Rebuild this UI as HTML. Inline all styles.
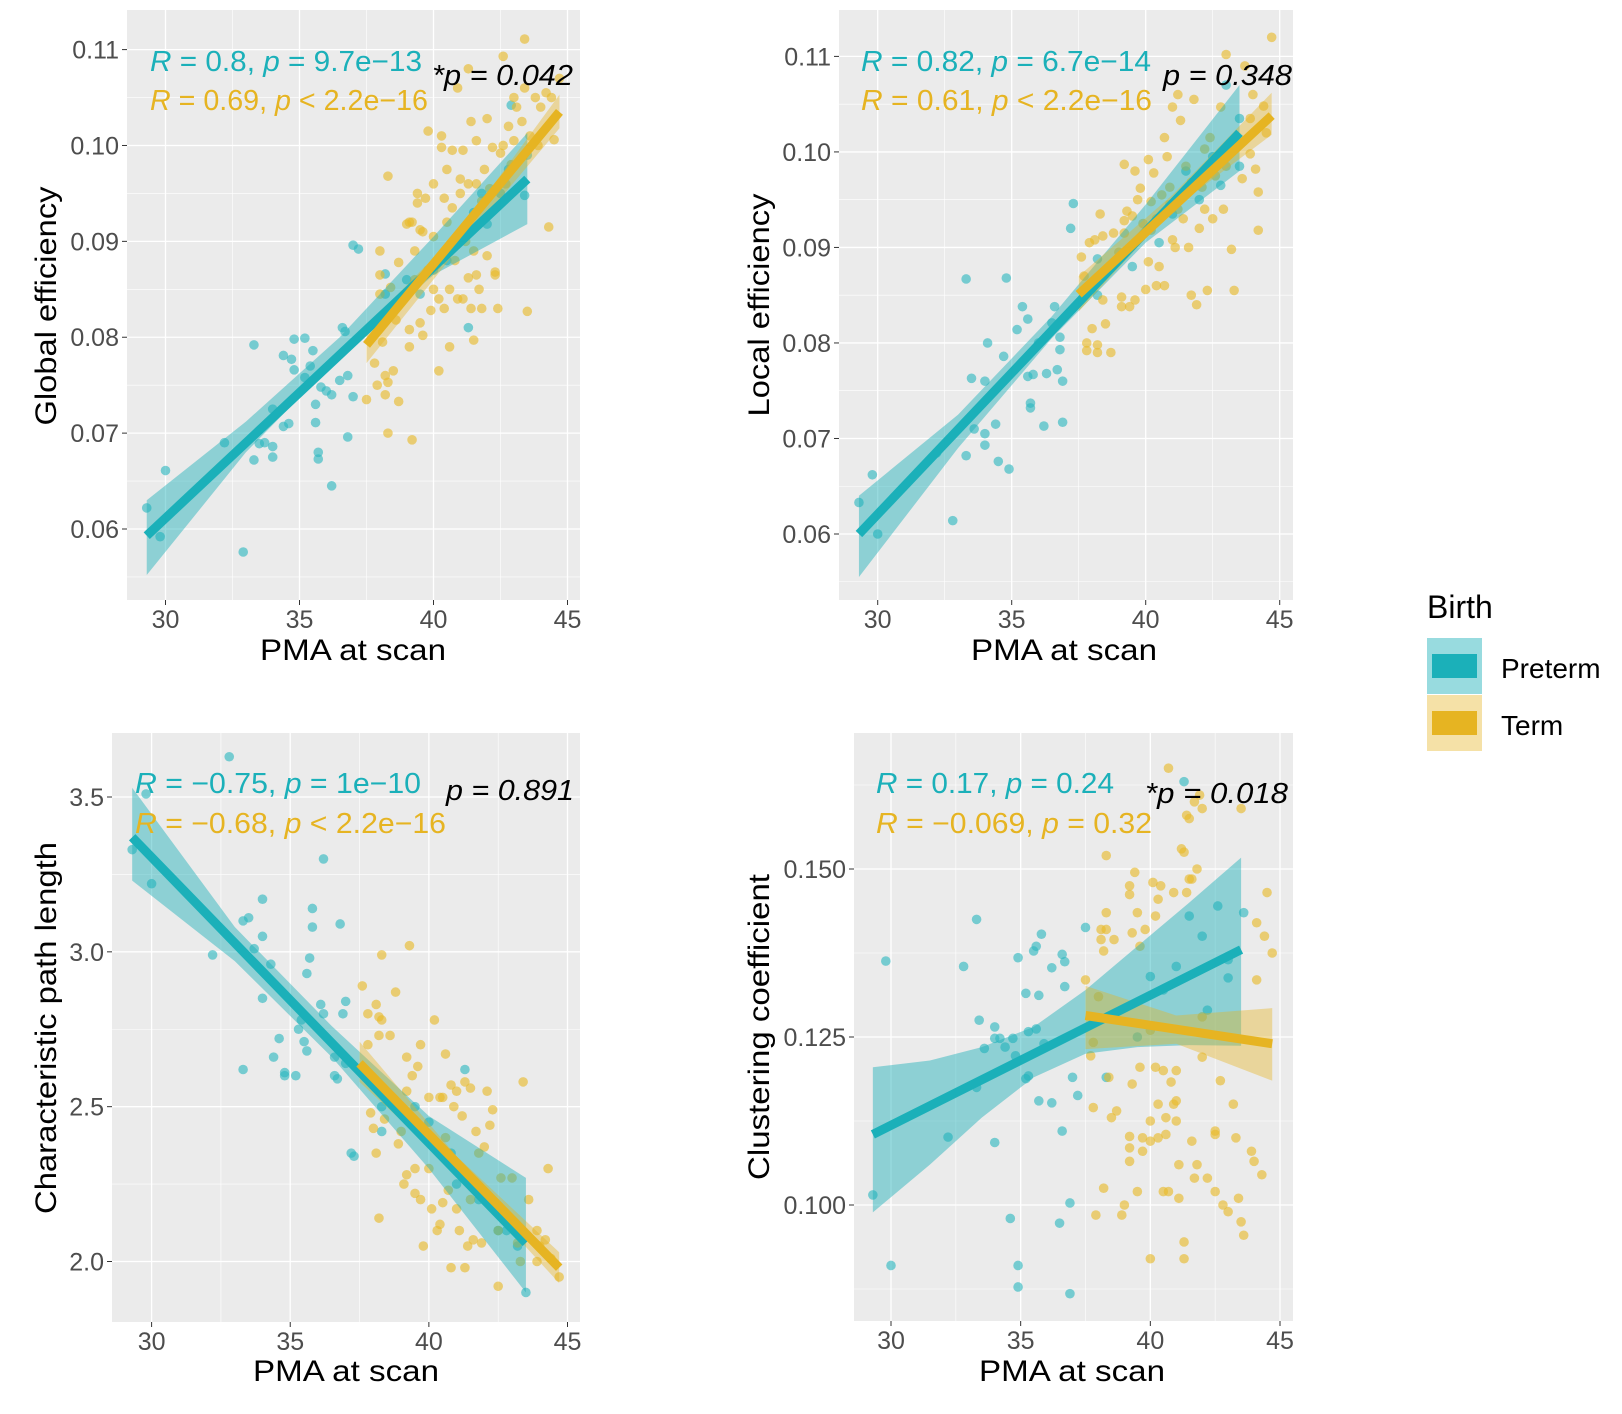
<!DOCTYPE html>
<html><head><meta charset="utf-8">
<style>
html,body{margin:0;padding:0;background:#fff;}
svg{display:block;font-family:"Liberation Sans",sans-serif;}
</style></head>
<body>
<svg id="chart" width="1622" height="1414" viewBox="0 0 1622 1414" xmlns="http://www.w3.org/2000/svg">
<g id="root"></g>
</svg>
<script>
// ---------- data ----------
const xTicks = [30, 35, 40, 45];
const xTickLabels = ["30", "35", "40", "45"];
const p1YTicks = [0.06, 0.07, 0.08, 0.09, 0.10, 0.11];
const p1YLabels = ["0.06", "0.07", "0.08", "0.09", "0.10", "0.11"];
const p2YTicks = [0.06, 0.07, 0.08, 0.09, 0.10, 0.11];
const p2YLabels = ["0.06", "0.07", "0.08", "0.09", "0.10", "0.11"];
const p3YTicks = [2.0, 2.5, 3.0, 3.5];
const p3YLabels = ["2.0", "2.5", "3.0", "3.5"];
const p4YTicks = [0.100, 0.125, 0.150];
const p4YLabels = ["0.100", "0.125", "0.150"];

// fitted lines [x0,y0,x1,y1]
const p1PretermFit = [29.3, 0.0593, 43.5, 0.0965];
const p1TermFit = [37.5, 0.0792, 44.7, 0.1035];
const p2PretermFit = [29.3, 0.0600, 43.5, 0.1020];
const p2TermFit = [37.5, 0.0851, 44.7, 0.1038];
const p3PretermFit = [29.3, 3.37, 43.5, 2.06];
const p3TermFit = [37.5, 2.64, 44.7, 1.98];
const p4PretermFit = [29.3, 0.1105, 43.5, 0.1380];
const p4TermFit = [37.5, 0.1282, 44.7, 0.1240];

// confidence bands: x, lower, upper
const p1PretermBandX = [29.3, 33, 36.5, 40, 43.5];
const p1PretermBandLo = [0.0552, 0.0680, 0.0780, 0.0865, 0.0918];
const p1PretermBandHi = [0.0630, 0.0712, 0.0800, 0.0905, 0.1013];
const p1TermBandX = [37.5, 41, 44.7];
const p1TermBandLo = [0.0773, 0.0895, 0.1018];
const p1TermBandHi = [0.0811, 0.0912, 0.1053];
const p2PretermBandX = [29.3, 33, 36.5, 40, 43.5];
const p2PretermBandLo = [0.0555, 0.0690, 0.0805, 0.0905, 0.0980];
const p2PretermBandHi = [0.0640, 0.0725, 0.0828, 0.0945, 0.1070];
const p2TermBandX = [37.5, 41, 44.7];
const p2TermBandLo = [0.0833, 0.0940, 0.1018];
const p2TermBandHi = [0.0870, 0.0955, 0.1062];
const p3PretermBandX = [29.3, 33, 36.5, 40, 43.5];
const p3PretermBandLo = [3.23, 2.97, 2.66, 2.30, 1.90];
const p3PretermBandHi = [3.53, 3.08, 2.76, 2.47, 2.27];
const p3TermBandX = [37.5, 41, 44.7];
const p3TermBandLo = [2.58, 2.29, 1.93];
const p3TermBandHi = [2.71, 2.34, 2.03];
const p4PretermBandX = [29.3, 31.5, 33.5, 35.5, 37.5, 39.5, 41.5, 43.5];
const p4PretermBandLo = [0.0989, 0.1060, 0.1130, 0.1190, 0.1225, 0.1235, 0.1238, 0.1237];
const p4PretermBandHi = [0.1205, 0.1215, 0.1235, 0.1265, 0.1320, 0.1385, 0.1450, 0.1517];
const p4TermBandX = [37.5, 41, 44.7];
const p4TermBandLo = [0.1232, 0.1240, 0.1185];
const p4TermBandHi = [0.1326, 0.1282, 0.1293];

// scatter points, flat [x,y,x,y,...]
const p1Preterm = [29.3,0.0622,29.8,0.0592,30,0.0661,32.2,0.0690,32.9,0.0576,33.3,0.0792,33.3,0.0672,33.5,0.0689,33.7,0.0690,34.0,0.0725,34.0,0.0686,34.0,0.0675,34.4,0.0781,34.4,0.0707,34.6,0.0710,34.7,0.0777,34.8,0.0798,34.8,0.0766,35.2,0.0799,35.2,0.0758,35.4,0.0770,35.5,0.0786,35.6,0.0730,35.6,0.0711,35.7,0.0680,35.7,0.0673,35.8,0.0748,36.0,0.0744,36.2,0.0740,36.2,0.0645,36.5,0.0755,36.6,0.0810,36.7,0.0806,36.8,0.0760,36.8,0.0696,37.0,0.0738,37.0,0.0896,37.2,0.0892,38.2,0.0866,38.2,0.0845,41.3,0.0810,42.9,0.1042,43.5,0.0990,43.4,0.0948,42.0,0.0918,41.5,0.0930,40.5,0.0880,41.0,0.0900,42.5,0.0950,40.0,0.0870,39.0,0.0860,38.5,0.0830,39.5,0.0845,42.8,0.0975,41.8,0.0950];
const p1Term = [37.5,0.0735,37.8,0.0773,37.9,0.0750,38.0,0.0845,38.0,0.0865,38.0,0.0890,38.1,0.0795,38.2,0.0760,38.2,0.0740,38.3,0.0753,38.3,0.0700,38.3,0.0968,38.4,0.0852,38.5,0.0765,38.6,0.0818,38.7,0.0878,38.7,0.0733,39.0,0.0918,39.1,0.0920,39.1,0.0808,39.1,0.0790,39.2,0.0693,39.3,0.0890,39.3,0.0860,39.4,0.0950,39.4,0.0940,39.5,0.0912,39.5,0.0815,39.6,0.0910,39.6,0.0802,39.7,0.0945,39.8,0.0870,39.8,0.1015,39.9,0.0828,40.0,0.0960,40.0,0.0850,40.1,0.0875,40.2,0.0765,40.2,0.0840,40.3,0.1010,40.3,0.0998,40.4,0.0945,40.4,0.0830,40.5,0.0975,40.5,0.0920,40.6,0.0850,40.6,0.0790,40.7,0.0935,40.7,0.0995,40.8,0.0880,40.9,0.1060,40.9,0.0840,41.0,0.0950,41.0,0.0965,41.1,0.0840,41.1,0.0995,41.2,0.0900,41.3,0.0862,41.3,0.0960,41.3,0.1080,41.4,0.1025,41.4,0.0830,41.5,0.0890,41.5,0.0797,41.6,0.0960,41.6,0.1005,41.6,0.0865,41.7,0.0850,41.8,0.0942,41.8,0.0830,41.9,0.0975,42.0,0.1028,42.0,0.0885,42.1,0.0955,42.2,0.0998,42.3,0.0868,42.4,0.0830,42.3,0.0865,42.5,0.0992,42.6,0.1093,42.6,0.1000,42.8,0.1020,42.9,0.0980,43.0,0.1050,43.0,0.1005,43.1,0.1040,43.3,0.1025,43.4,0.1111,43.4,0.1060,43.5,0.0827,43.6,0.1010,43.8,0.1050,43.9,0.1000,44.0,0.1040,44.2,0.1055,44.3,0.0915,44.4,0.1050,44.5,0.1006,44.7,0.1070,39.2,0.0920,40.0,0.0905,42.7,0.0960];
const p2Preterm = [29.3,0.0633,29.8,0.0662,30.0,0.0600,32.2,0.0685,32.8,0.0614,33.3,0.0867,33.3,0.0682,33.5,0.0763,33.6,0.0710,34.0,0.0760,34.0,0.0693,34.0,0.0705,34.1,0.0800,34.4,0.0715,34.5,0.0676,34.7,0.0786,34.8,0.0868,34.9,0.0668,35.2,0.0814,35.4,0.0838,35.6,0.0825,35.6,0.0765,35.7,0.0737,35.7,0.0732,35.8,0.0767,36.0,0.0800,36.2,0.0713,36.3,0.0768,36.5,0.0821,36.6,0.0838,36.7,0.0772,36.8,0.0806,36.8,0.0793,36.9,0.0760,36.9,0.0717,37.2,0.0920,37.3,0.0946,38.2,0.0888,38.2,0.0850,43.0,0.1070,43.5,0.1035,43.5,0.0985,42.8,0.0965,42.0,0.0950,41.5,0.0980,40.5,0.0905,41.0,0.0935,42.5,0.0995,39.5,0.0880,43.2,0.1000];
const p2Term = [37.6,0.0890,37.7,0.0870,37.8,0.0792,37.8,0.0800,37.9,0.0905,38.0,0.0815,38.1,0.0908,38.2,0.0790,38.2,0.0798,38.3,0.0868,38.3,0.0935,38.4,0.0912,38.4,0.0845,38.5,0.0820,38.7,0.0790,38.8,0.0915,39.1,0.0848,39.1,0.0838,39.2,0.0928,39.2,0.0915,39.2,0.0987,39.3,0.0938,39.4,0.0838,39.5,0.0933,39.6,0.0845,39.6,0.0980,39.7,0.0950,39.8,0.0962,39.9,0.0925,40.0,0.0856,40.1,0.0992,40.1,0.0885,40.2,0.0918,40.2,0.0948,40.3,0.0978,40.4,0.0930,40.4,0.0860,40.5,0.0880,40.6,0.0955,40.7,0.0860,40.7,0.1015,40.8,0.0995,40.9,0.0963,41.0,0.1047,41.0,0.0908,41.1,0.0900,41.2,0.0940,41.2,0.1060,41.3,0.1033,41.4,0.0930,41.5,0.0985,41.6,0.0900,41.7,0.0850,41.7,0.0968,41.8,0.1055,41.9,0.0840,42.0,0.0920,42.1,0.0963,42.2,0.1003,42.2,0.0940,42.3,0.0855,42.5,0.0930,42.6,0.0975,42.8,0.1047,42.9,0.0940,43.0,0.1102,43.0,0.0985,43.2,0.0898,43.3,0.0855,43.5,0.1008,43.6,0.0972,43.9,0.1035,43.9,0.0998,44.0,0.1060,44.1,0.0982,44.2,0.0958,44.2,0.0918,44.4,0.1048,44.5,0.1020,44.7,0.1120,39.0,0.0895,40.9,0.0945,42.4,0.1015,43.7,0.1090];
const p3Preterm = [29.3,3.33,29.8,3.51,30.0,3.22,32.2,2.99,32.8,3.63,33.3,3.10,33.3,2.62,33.5,3.11,33.7,3.01,34.0,3.17,34.0,3.05,34.0,2.85,34.3,2.96,34.4,2.66,34.6,2.72,34.8,2.60,34.8,2.61,35.2,2.60,35.3,2.75,35.4,2.78,35.5,2.71,35.6,2.68,35.6,2.93,35.7,2.98,35.8,3.14,35.8,3.08,36.1,2.83,36.2,3.30,36.2,2.80,36.6,2.66,36.6,2.60,36.7,2.59,36.8,3.09,36.9,2.80,37.0,2.84,37.0,2.64,37.2,2.35,37.3,2.34,38.3,2.50,38.3,2.42,41.3,2.62,43.5,1.90,43.2,2.05,42.5,2.10,41.8,2.20,40.8,2.35,41.0,2.25,42.8,2.10,40.0,2.45,39.5,2.50];
const p3Term = [37.6,2.89,37.8,2.70,37.8,2.80,37.9,2.48,38.0,2.43,38.1,2.83,38.1,2.35,38.2,2.79,38.2,2.73,38.2,2.14,38.3,2.78,38.3,2.99,38.4,2.46,38.6,2.73,38.8,2.87,38.9,2.38,39.1,2.25,39.2,2.66,39.2,2.28,39.2,2.55,39.3,3.02,39.4,2.60,39.5,2.30,39.5,2.22,39.6,2.63,39.7,2.20,39.7,2.70,39.8,2.05,40.0,2.53,40.1,2.17,40.2,2.78,40.3,2.10,40.4,2.53,40.4,2.12,40.5,2.19,40.5,2.53,40.6,2.40,40.6,2.67,40.7,2.23,40.8,2.57,40.8,1.98,40.9,2.50,41.0,2.17,41.0,2.55,41.1,2.10,41.2,2.47,41.3,2.58,41.3,1.98,41.4,2.05,41.5,2.56,41.6,2.07,41.7,2.42,41.8,2.35,41.9,2.06,42.0,2.37,42.1,2.55,42.2,2.44,42.3,2.49,42.5,2.10,42.6,2.27,42.5,1.92,43.0,2.27,43.2,2.06,43.3,2.00,43.4,2.58,43.6,2.20,43.9,2.10,43.9,2.00,44.0,2.05,44.2,2.07,44.3,2.30,44.4,2.01,44.7,1.95,41.5,2.20,40.0,2.30,42.8,2.15,39.0,2.42,40.7,2.35];
const p4Preterm = [29.3,0.1015,29.8,0.1363,30.0,0.0910,32.2,0.1101,32.8,0.1355,33.3,0.1425,33.3,0.1175,33.4,0.1275,33.6,0.1233,34.0,0.1093,34.0,0.1265,34.0,0.1248,34.2,0.1248,34.4,0.1235,34.6,0.0980,34.7,0.1248,34.8,0.1222,34.9,0.1368,34.9,0.0910,34.9,0.0878,35.2,0.1315,35.2,0.1188,35.3,0.1258,35.3,0.1192,35.5,0.1378,35.6,0.1262,35.6,0.1385,35.7,0.1155,35.7,0.1312,35.8,0.1403,35.9,0.1240,36.2,0.1353,36.2,0.1152,36.5,0.0973,36.6,0.1373,36.6,0.1110,36.7,0.1362,36.7,0.1325,36.9,0.1003,36.9,0.0868,37.0,0.1190,37.2,0.1163,37.5,0.1413,38.3,0.1190,41.3,0.1630,42.6,0.1445,43.0,0.1338,43.0,0.1365,43.6,0.1435,42.0,0.1400,41.5,0.1430,41.0,0.1355,40.5,0.1320,42.2,0.1290,39.5,0.1250,40.0,0.1340];
const p4Term = [37.5,0.1335,37.7,0.1222,37.8,0.1145,37.8,0.1242,37.9,0.0985,38.0,0.1310,38.1,0.1410,38.1,0.1395,38.2,0.1378,38.2,0.1025,38.3,0.1520,38.3,0.1435,38.3,0.1410,38.4,0.1190,38.5,0.1130,38.6,0.1395,38.7,0.1140,38.9,0.0985,39.0,0.1000,39.2,0.1475,39.2,0.1462,39.2,0.1102,39.2,0.1085,39.2,0.1065,39.3,0.1405,39.3,0.1180,39.4,0.1495,39.5,0.1435,39.5,0.1020,39.6,0.1385,39.6,0.1205,39.7,0.1100,39.7,0.1080,39.8,0.1410,40.0,0.1125,40.0,0.1095,40.0,0.0920,40.1,0.1480,40.2,0.1430,40.2,0.1205,40.3,0.1455,40.3,0.1150,40.3,0.1100,40.4,0.1475,40.5,0.1200,40.5,0.1020,40.6,0.1130,40.6,0.1105,40.7,0.1020,40.8,0.1183,40.9,0.1465,40.9,0.1150,41.0,0.1125,41.0,0.1155,41.1,0.1060,41.1,0.1010,41.2,0.1530,41.3,0.1525,41.3,0.0945,41.3,0.0920,41.4,0.1580,41.4,0.1465,41.5,0.1485,41.5,0.1575,41.6,0.1485,41.6,0.1095,41.7,0.1600,41.7,0.1040,41.8,0.1500,41.8,0.1060,41.9,0.1610,42.0,0.1590,42.0,0.1220,42.2,0.1040,42.5,0.1105,42.5,0.1110,42.5,0.1020,42.8,0.1000,42.7,0.1185,43.0,0.0990,43.2,0.1150,43.3,0.1100,43.4,0.1010,43.5,0.0975,43.5,0.1590,43.6,0.0955,43.9,0.1080,44.0,0.1065,44.1,0.1335,44.1,0.1420,44.3,0.1045,44.4,0.1400,44.5,0.1465,44.7,0.1375,40.7,0.1650,41.0,0.1200,42.0,0.1280,40.0,0.1260];

// ---------- rendering ----------
const NS = "http://www.w3.org/2000/svg";
const root = document.getElementById("root");
const TEAL = "#1BB0B9", GOLD = "#E6B422";
function mk(tag, attrs, parent) {
  const e = document.createElementNS(NS, tag);
  for (const k in attrs) e.setAttribute(k, attrs[k]);
  (parent || root).appendChild(e);
  return e;
}
function linScale(v0, p0, v1, p1) { return v => p0 + (v - v0) * (p1 - p0) / (v1 - v0); }

function drawPanel(cfg) {
  const g = mk("g", {});
  
  
  const sx = linScale(30, cfg.x30, 45, cfg.x45);
  const sy = linScale(cfg.yT[0], cfg.yP[0], cfg.yT[1], cfg.yP[1]);
  const bg = mk("rect", {x: cfg.L, y: cfg.T, width: cfg.R - cfg.L, height: cfg.B - cfg.T, fill: "#EBEBEB"}, g);
  
  
  const yStep = cfg.yTicks[1] - cfg.yTicks[0];
  for (let i = -1; i < cfg.yTicks.length; i++) {
    const v = cfg.yTicks[0] + (i + 0.5) * yStep; const py = sy(v);
    if (py > cfg.T && py < cfg.B) mk("line", {x1: cfg.L, x2: cfg.R, y1: py, y2: py, stroke: "#fff", "stroke-width": 0.6}, g);
  }
  for (let i = 0; i < xTicks.length - 1; i++) {
    const px = sx((xTicks[i] + xTicks[i + 1]) / 2);
    mk("line", {x1: px, x2: px, y1: cfg.T, y2: cfg.B, stroke: "#fff", "stroke-width": 0.6}, g);
  }
  cfg.yTicks.forEach((v, i) => {
    const py = sy(v);
    mk("line", {x1: cfg.L, x2: cfg.R, y1: py, y2: py, stroke: "#fff", "stroke-width": 1.3}, g);
    mk("line", {x1: cfg.L - 5, x2: cfg.L, y1: py, y2: py, stroke: "#333", "stroke-width": 1}, g);
    const t = mk("text", {x: cfg.L - 8, y: py + 9, "text-anchor": "end", "font-size": 25, fill: "#4D4D4D"}, g);
    t.textContent = cfg.yLabels[i];
    
    
  });
  xTicks.forEach((v, i) => {
    const px = sx(v);
    mk("line", {x1: px, x2: px, y1: cfg.T, y2: cfg.B, stroke: "#fff", "stroke-width": 1.3}, g);
    mk("line", {x1: px, x2: px, y1: cfg.B, y2: cfg.B + 5, stroke: "#333", "stroke-width": 1}, g);
    const t = mk("text", {x: px, y: cfg.B + 28, "text-anchor": "middle", "font-size": 25, fill: "#4D4D4D"}, g);
    t.textContent = xTickLabels[i];
    
    
  });
  [[cfg.preterm, "#2DB8C0", "preterm-point"], [cfg.term, "#E8B928", "term-point"]].forEach(([arr, col, nm]) => {
    for (let i = 0; i < arr.length; i += 2) {
      const c = mk("circle", {cx: sx(arr[i]), cy: sy(arr[i + 1]), r: 4.8, fill: col, "fill-opacity": 0.62}, g);
      
      
    }
  });
  [[cfg.pbX, cfg.pbLo, cfg.pbHi, TEAL, 0.45, "preterm-confidence-band"], [cfg.tbX, cfg.tbLo, cfg.tbHi, GOLD, 0.4, "term-confidence-band"]].forEach(([bx, lo, hi, col, op, nm]) => {
    const pts = [];
    bx.forEach((v, i) => pts.push(sx(v) + "," + sy(hi[i])));
    for (let i = bx.length - 1; i >= 0; i--) pts.push(sx(bx[i]) + "," + sy(lo[i]));
    const p = mk("polygon", {points: pts.join(" "), fill: col, "fill-opacity": op}, g);
    
    
  });
  [[cfg.pFit, TEAL, "preterm-fit-line"], [cfg.tFit, GOLD, "term-fit-line"]].forEach(([f, col, nm]) => {
    const l = mk("line", {x1: sx(f[0]), y1: sy(f[1]), x2: sx(f[2]), y2: sy(f[3]), stroke: col, "stroke-width": 9}, g);
    
    
  });
  function ann(a, col, nm) {
    const t = mk("text", {x: a[0], y: a[1], textLength: a[2], lengthAdjust: "spacingAndGlyphs", "font-size": 29, fill: col}, g);
    t.innerHTML = a[3];
    
    
  }
  ann(cfg.annP, TEAL, "preterm-correlation-label");
  ann(cfg.annT, GOLD, "term-correlation-label");
  const pv = mk("text", {x: cfg.pval[0], y: cfg.pval[1], textLength: cfg.pval[2], lengthAdjust: "spacingAndGlyphs", "font-size": 29, "font-style": "italic", fill: "#000"}, g);
  pv.textContent = cfg.pval[3];
  
  
  const xt = mk("text", {x: cfg.xTitle[0], y: cfg.xTitle[1], "text-anchor": "middle", textLength: 186, lengthAdjust: "spacingAndGlyphs", "font-size": 30, fill: "#000"}, g);
  xt.textContent = "PMA at scan";
  
  
  const yt = mk("text", {x: 0, y: 0, "text-anchor": "middle", textLength: cfg.yTitle[3], lengthAdjust: "spacingAndGlyphs", "font-size": 30, fill: "#000", transform: `translate(${cfg.yTitle[0]},${cfg.yTitle[1]}) rotate(-90)`}, g);
  yt.textContent = cfg.yTitle[2];
  
  
}

const it = (s) => `<tspan font-style="italic">${s}</tspan>`;

drawPanel({name: "global-efficiency-panel", L: 127, R: 580, T: 10, B: 600, x30: 165.5, x45: 567.5,
  yT: [0.06, 0.11], yP: [529, 49.6], yTicks: p1YTicks, yLabels: p1YLabels,
  preterm: p1Preterm, term: p1Term, pFit: p1PretermFit, tFit: p1TermFit,
  pbX: p1PretermBandX, pbLo: p1PretermBandLo, pbHi: p1PretermBandHi, tbX: p1TermBandX, tbLo: p1TermBandLo, tbHi: p1TermBandHi,
  annP: [150, 71, 272, `${it("R")} = 0.8, ${it("p")} = 9.7e−13`], annT: [150, 110, 278, `${it("R")} = 0.69, ${it("p")} &lt; 2.2e−16`],
  pval: [432, 85, 141, "*p = 0.042"], xTitle: [353, 660], yTitle: [56, 306, "Global efficiency", 239]});

drawPanel({name: "local-efficiency-panel", L: 839, R: 1293, T: 10, B: 600, x30: 877.7, x45: 1279.7,
  yT: [0.06, 0.11], yP: [534, 56.4], yTicks: p2YTicks, yLabels: p2YLabels,
  preterm: p2Preterm, term: p2Term, pFit: p2PretermFit, tFit: p2TermFit,
  pbX: p2PretermBandX, pbLo: p2PretermBandLo, pbHi: p2PretermBandHi, tbX: p2TermBandX, tbLo: p2TermBandLo, tbHi: p2TermBandHi,
  annP: [861, 71, 290, `${it("R")} = 0.82, ${it("p")} = 6.7e−14`], annT: [861, 110, 291, `${it("R")} = 0.61, ${it("p")} &lt; 2.2e−16`],
  pval: [1163, 85, 129, "p = 0.348"], xTitle: [1064, 660], yTitle: [769, 305, "Local efficiency", 223]});

drawPanel({name: "characteristic-path-length-panel", L: 112, R: 580, T: 733, B: 1322, x30: 151.6, x45: 567.5,
  yT: [2.0, 3.5], yP: [1261.5, 797], yTicks: p3YTicks, yLabels: p3YLabels,
  preterm: p3Preterm, term: p3Term, pFit: p3PretermFit, tFit: p3TermFit,
  pbX: p3PretermBandX, pbLo: p3PretermBandLo, pbHi: p3PretermBandHi, tbX: p3TermBandX, tbLo: p3TermBandLo, tbHi: p3TermBandHi,
  annP: [135, 793, 286, `${it("R")} = −0.75, ${it("p")} = 1e−10`], annT: [135, 833, 311, `${it("R")} = −0.68, ${it("p")} &lt; 2.2e−16`],
  pval: [446, 800, 128, "p = 0.891"], xTitle: [346, 1381], yTitle: [56, 1028, "Characteristic path length", 372]});

drawPanel({name: "clustering-coefficient-panel", L: 854, R: 1293, T: 733, B: 1321, x30: 891, x45: 1280,
  yT: [0.100, 0.150], yP: [1205, 869], yTicks: p4YTicks, yLabels: p4YLabels,
  preterm: p4Preterm, term: p4Term, pFit: p4PretermFit, tFit: p4TermFit,
  pbX: p4PretermBandX, pbLo: p4PretermBandLo, pbHi: p4PretermBandHi, tbX: p4TermBandX, tbLo: p4TermBandLo, tbHi: p4TermBandHi,
  annP: [876, 793, 238, `${it("R")} = 0.17, ${it("p")} = 0.24`], annT: [876, 833, 276, `${it("R")} = −0.069, ${it("p")} = 0.32`],
  pval: [1145, 803, 143, "*p = 0.018"], xTitle: [1072, 1381], yTitle: [769, 1027, "Clustering coefficient", 306]});

// legend
const lg = mk("g", {});


const lt = mk("text", {x: 1427, y: 618, "font-size": 32, fill: "#000"}, lg);
lt.textContent = "Birth";


[["Preterm", 638, TEAL, 0.45, "legend-entry-preterm"], ["Term", 695, GOLD, 0.4, "legend-entry-term"]].forEach(([lab, y, col, op, nm]) => {
  const eg = mk("g", {}, lg);
  
  
  mk("rect", {x: 1427, y: y, width: 55, height: 56, fill: col, "fill-opacity": op}, eg);
  mk("rect", {x: 1432, y: y + 16, width: 45, height: 24, fill: col}, eg);
  const t = mk("text", {x: 1501, y: y + 40, "font-size": 28, fill: "#000"}, eg);
  t.textContent = lab;
});
</script>
</body></html>
